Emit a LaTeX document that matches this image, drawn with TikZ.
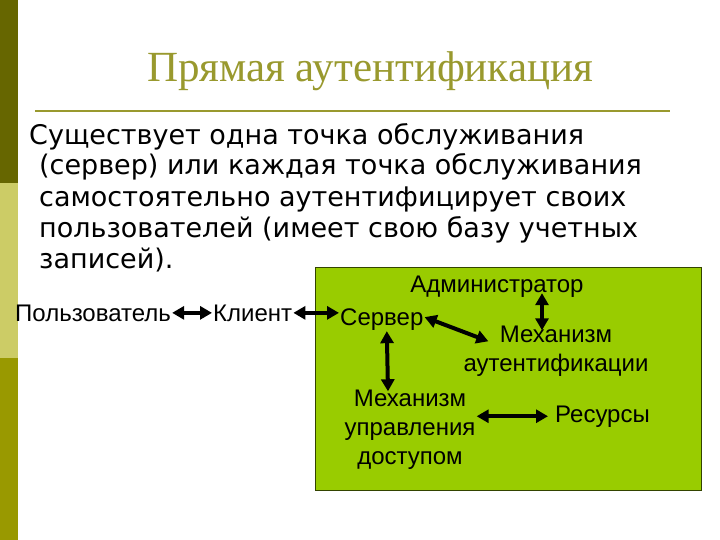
\documentclass[tikz,border=0pt]{standalone}
\usepackage{fontspec}
\setmainfont{Liberation Sans}
\newfontfamily\titlefont{Liberation Serif}
\newfontfamily\bodyfont{DejaVu Sans}
\usepackage{tikz}
\usetikzlibrary{arrows.meta,positioning}
\definecolor{bardark}{HTML}{666600}
\definecolor{barlight}{HTML}{CCCC66}
\definecolor{barmid}{HTML}{999900}
\definecolor{titleolive}{HTML}{99992E}
\definecolor{boxgreen}{HTML}{99CC00}
\definecolor{boxedge}{HTML}{334400}

\begin{document}
\begin{tikzpicture}[x=1pt,y=-1pt,>=Latex]
  \tikzstyle{lbl}=[font=\fontsize{24}{29}\selectfont,align=center,inner sep=1pt]
  \tikzstyle{link}=[{Triangle[length=12pt,width=13pt]}-{Triangle[length=12pt,width=13pt]},line width=4pt]
  \useasboundingbox (0,0) rectangle (720,540);
  % side bar
  \fill[bardark] (0,0) rectangle (18,183);
  \fill[barlight] (0,183) rectangle (18,358);
  \fill[barmid] (0,358) rectangle (18,540);
  % heading
  \node[anchor=base,font=\titlefont\fontsize{43}{50}\selectfont,text=titleolive] (title) at (370,82) {Прямая аутентификация};
  \draw[titleolive,line width=2.5pt] (35,111) -- (670,111);
  % multi-line nodes: base = last line
  \node[anchor=base west,align=left,inner sep=0pt,font=\bodyfont\fontsize{27}{31}\selectfont] (intro) at (29,268)
    {Существует одна точка обслуживания\\
     \hspace*{10pt}(сервер) или каждая точка обслуживания\\
     \hspace*{10pt}самостоятельно аутентифицирует своих\\
     \hspace*{10pt}пользователей (имеет свою базу учетных\\
     \hspace*{10pt}записей).};
  % green area
  \draw[fill=boxgreen,draw=boxedge,line width=0.8pt] (315,267) rectangle (701,490);
  \node[lbl,anchor=base west] (user) at (14,321) {Пользователь};
  \node[lbl,anchor=base west] (client) at (212,321) {Клиент};
  \node[lbl,anchor=base west] (server) at (339,325) {Сервер};
  \node[lbl,anchor=base] (admin) at (497,292) {Администратор};
  \node[lbl,anchor=base] (authmech) at (556,371) {Механизм\\аутентификации};
  \node[lbl,anchor=base] (accmech) at (410,464) {Механизм\\управления\\доступом};
  \node[lbl,anchor=base west] (res) at (554,422) {Ресурсы};
  \draw[link] (user) -- (client);
  \draw[link] (client.east) -- (client.east -| server.west);
  \draw[link] ([yshift=2pt]server.east) -- ([xshift=26pt,yshift=-17pt]authmech.north west);
  \draw[link] ([xshift=45pt,yshift=5pt]admin.south) -- ([xshift=-14pt,yshift=-6pt]authmech.north);
  \draw[link] ([xshift=5pt]server.south) -- ([xshift=-22pt,yshift=-3pt]accmech.north);
  \draw[link] (accmech.east |- res.west) -- ([xshift=-6pt]res.west);
\end{tikzpicture}
\end{document}
